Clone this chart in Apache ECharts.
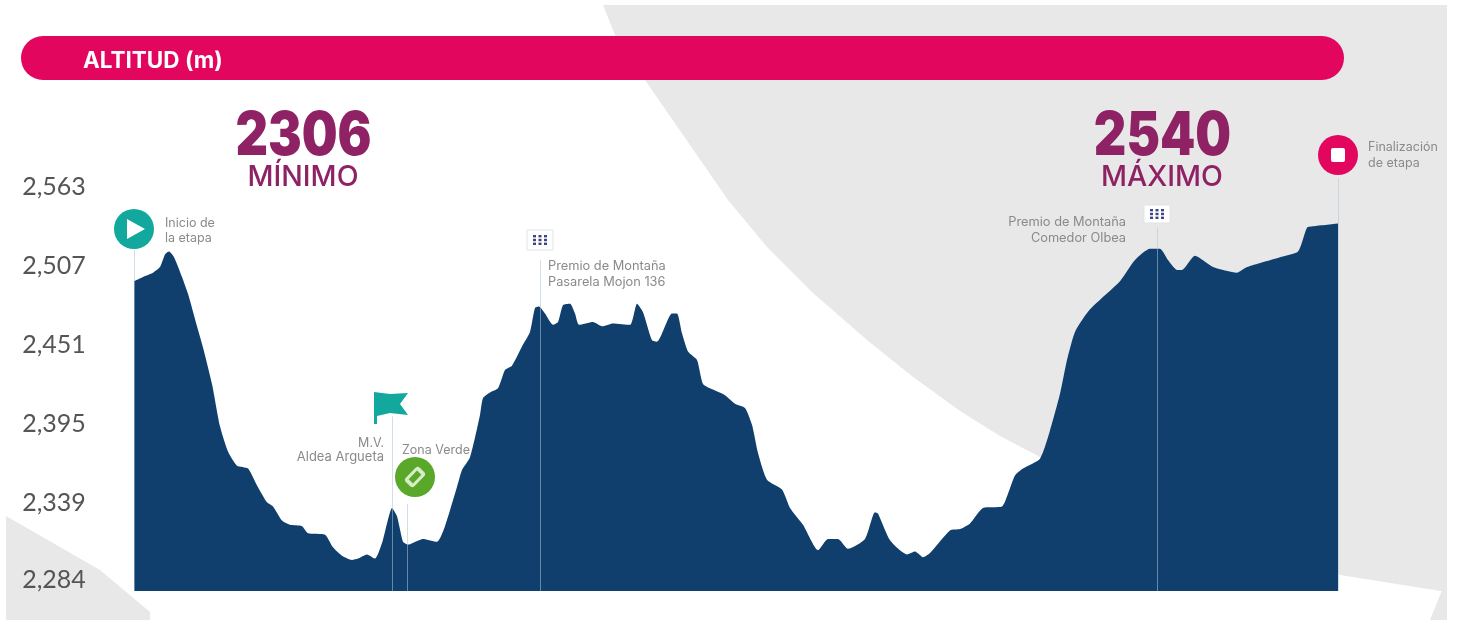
<!DOCTYPE html>
<html lang="es">

<head>
  <meta charset="UTF-8">
  <title>Altitud</title>
  <style>
    html, body {
      margin: 0;
      width: 100%;
      height: 100%;
      background: #fff;
    }

    #chart {
      width: 1457px;
      height: 622px;
    }
  </style>
</head>

<body>
  <div id="chart"></div>
  <script src="https://cdn.jsdelivr.net/npm/echarts@6/dist/echarts.min.js"></script>
  <script>
    var distance = [0, 9, 19, 26, 31, 35, 40, 48, 54, 63, 69, 78, 86, 94, 103, 114, 123, 133, 139, 148, 156, 168, 174, 191, 199, 208, 218, 224, 233, 241, 248, 253, 258, 263, 269, 274, 289, 303, 311, 323, 328, 336, 346, 349, 356, 364, 371, 378, 389, 396, 401, 405, 411, 419, 424, 429, 436, 441, 445, 459, 468, 479, 496, 503, 509, 518, 523, 538, 543, 548, 554, 563, 569, 579, 591, 601, 611, 618, 624, 633, 648, 656, 669, 684, 694, 704, 714, 731, 741, 744, 756, 773, 781, 789, 796, 816, 826, 836, 849, 868, 874, 881, 889, 906, 916, 926, 933, 941, 956, 986, 1001, 1016, 1026, 1034, 1043, 1048, 1061, 1079, 1103, 1113, 1146, 1164, 1173, 1179, 1204];
    var altitude = [2504, 2507, 2510, 2514, 2523, 2525, 2521, 2507, 2495, 2472, 2457, 2431, 2401, 2383, 2373, 2371, 2359, 2347, 2344, 2334, 2331, 2330, 2325, 2324, 2315, 2309, 2306, 2307, 2310, 2307, 2318, 2332, 2343, 2337, 2319, 2317, 2321, 2319, 2330, 2358, 2370, 2379, 2409, 2421, 2425, 2428, 2441, 2444, 2459, 2468, 2485, 2486, 2481, 2473, 2475, 2487, 2488, 2481, 2473, 2475, 2472, 2474, 2473, 2488, 2482, 2462, 2461, 2481, 2481, 2467, 2454, 2448, 2431, 2427, 2423, 2417, 2414, 2402, 2382, 2363, 2356, 2343, 2331, 2313, 2321, 2321, 2314, 2321, 2340, 2339, 2320, 2310, 2312, 2308, 2311, 2327, 2328, 2332, 2343, 2344, 2353, 2366, 2371, 2378, 2398, 2424, 2448, 2468, 2484, 2504, 2519, 2527, 2527, 2519, 2512, 2512, 2522, 2514, 2510, 2514, 2521, 2525, 2542, 2543, 2545];
    var tickValues = [2284, 2339, 2395, 2451, 2507, 2563];
    var minimo = '2306';
    var maximo = '2540';

    // puntos de la etapa: distancia y altitud hasta donde sube la linea guia
    var pointDistance = [0, 258, 273, 406, 1023, 1204];
    var pointTop = [2526, 2408, 2346, 2519, 2542, 2577];

    var gris = '#e8e8e8';
    var rosa = '#e2065f';
    var morado = '#8e2265';
    var verdeAzul = '#12a89d';
    var fuente = 'Inter, Lato, sans-serif';

    function texto(x, y, str, align, size, color, weight) {
      return {
        type: 'text',
        z: 10,
        style: {
          x: x,
          y: y,
          text: str,
          align: align || 'left',
          verticalAlign: 'middle',
          fontFamily: fuente,
          fontSize: size || 12.5,
          fontWeight: weight || 'normal',
          fill: color || '#8a8a8a'
        }
      };
    }

    // numero grande: Inter es mas ancha que la letra original, se estrecha un poco
    function cifra(x, y, str) {
      var t = texto(0, 0, str, 'center', 60, morado, 900);
      t.x = x;
      t.y = y;
      t.scaleX = 0.84;
      return t;
    }

    // banderita de premio de montaña con sus puntos
    function banderita(x, y, w, h) {
      var els = [{
        type: 'rect',
        z: 9,
        shape: { x: x, y: y, width: w, height: h },
        style: { fill: '#fff', stroke: '#dfe3ea', lineWidth: 1 }
      }];
      for (var i = 0; i < 3; i++) {
        for (var j = 0; j < 3; j++) {
          els.push({
            type: 'rect',
            z: 10,
            shape: { x: x + w / 2 - 7 + i * 5.5, y: y + h / 2 - 5 + j * 3.8, width: 3, height: 2.4 },
            style: { fill: '#3b4488' }
          });
        }
      }
      return els;
    }

    var graficos = [
      // fondo gris
      {
        type: 'polygon',
        z: -10,
        shape: {
          points: [[603, 5], [615, 35], [645, 80], [690, 145], [728, 200], [767, 247], [813, 293], [867, 340], [913, 377], [960, 411], [1000, 436], [1040, 457], [1100, 500], [1340, 575], [1447, 592], [1447, 5]]
        },
        style: { fill: gris }
      },
      {
        type: 'polygon',
        z: -10,
        shape: { points: [[6, 516], [100, 570], [150, 612], [150, 620], [6, 620]] },
        style: { fill: gris }
      },
      {
        type: 'polygon',
        z: -10,
        shape: { points: [[1447, 578], [1430, 620], [1447, 620]] },
        style: { fill: gris }
      },
      // barra de titulo
      {
        type: 'rect',
        z: 5,
        shape: { x: 21, y: 36, width: 1323, height: 44, r: 22 },
        style: { fill: rosa }
      },
      texto(83, 61, 'ALTITUD (m)', 'left', 22.5, '#fff', 'bold'),
      // minimo y maximo
      cifra(303.5, 137, minimo),
      texto(303, 177, 'MÍNIMO', 'center', 28.5, morado, 500),
      cifra(1162.5, 137, maximo),
      texto(1162, 177, 'MÁXIMO', 'center', 28.5, morado, 500),
      // inicio
      { type: 'circle', z: 9, shape: { cx: 134, cy: 229, r: 20 }, style: { fill: verdeAzul } },
      { type: 'polygon', z: 10, shape: { points: [[127, 219], [145, 229], [127, 239]] }, style: { fill: '#fff' } },
      texto(165, 223, 'Inicio de'),
      texto(165, 238, 'la etapa'),
      // final
      { type: 'circle', z: 9, shape: { cx: 1338, cy: 155, r: 20 }, style: { fill: rosa } },
      { type: 'rect', z: 10, shape: { x: 1331, y: 148, width: 14, height: 14, r: 2 }, style: { fill: '#fff' } },
      texto(1368, 147, 'Finalización'),
      texto(1368, 163, 'de etapa'),
      // M.V.
      { type: 'polygon', z: 9, shape: { points: [[374, 392], [390, 394], [408, 393], [400, 404], [408, 415], [390, 413], [377, 416], [377, 424], [374, 424]] }, style: { fill: verdeAzul } },
      texto(384, 443, 'M.V.', 'right'),
      texto(384, 457, 'Aldea Argueta', 'right', 13),
      // zona verde
      { type: 'circle', z: 9, shape: { cx: 415, cy: 477, r: 20 }, style: { fill: '#5aa829' } },
      { type: 'rect', z: 10, rotation: 0.8, originX: 415, originY: 477, shape: { x: 405, y: 471, width: 20, height: 12, r: 3 }, style: { fill: '#d9ecc8' } },
      { type: 'rect', z: 10, rotation: 0.8, originX: 415, originY: 477, shape: { x: 409, y: 474, width: 12, height: 6 }, style: { fill: '#5aa829' } },
      texto(402, 450, 'Zona Verde', 'left', 12.5),
      // premios de montaña
      texto(548, 266, 'Premio de Montaña', 'left', 12.8),
      texto(548, 282, 'Pasarela Mojon 136', 'left', 12.8),
      texto(1126, 222, 'Premio de Montaña', 'right', 12.8),
      texto(1126, 238, 'Comedor Olbea', 'right', 12.8)
    ].concat(banderita(527, 230, 26, 20), banderita(1144, 205, 26, 18));

    var guias = [];
    for (var i = 0; i < pointDistance.length; i++) {
      guias.push([
        { coord: [pointDistance[i], tickValues[0]] },
        { coord: [pointDistance[i], pointTop[i]] }
      ]);
    }

    var perfil = [];
    for (var k = 0; k < distance.length; k++) {
      perfil.push([distance[k], altitude[k]]);
    }

    var myChart = echarts.init(document.getElementById('chart'));
    myChart.setOption({
      animation: false,
      grid: { left: 134, width: 1204, top: 146, height: 445 },
      xAxis: { type: 'value', min: 0, max: 1204, show: false },
      yAxis: {
        type: 'value',
        min: 2284,
        max: 2600,
        splitLine: { show: false },
        axisLine: { show: false },
        axisTick: { show: false },
        axisLabel: {
          customValues: tickValues,
          formatter: function (v) {
            return String(v).charAt(0) + ',' + String(v).slice(1);
          },
          align: 'center',
          verticalAlign: 'bottom',
          lineHeight: 22,
          margin: 80,
          fontFamily: 'Lato, sans-serif',
          fontSize: 25,
          color: '#555'
        }
      },
      graphic: { elements: graficos },
      series: [{
        type: 'line',
        data: perfil,
        clip: false,
        smooth: 0.2,
        showSymbol: false,
        lineStyle: { width: 0 },
        areaStyle: { color: '#103f6e', opacity: 1 },
        markLine: {
          silent: true,
          symbol: 'none',
          label: { show: false },
          lineStyle: { color: '#a9c4d8', width: 1, type: 'solid', opacity: 0.55 },
          data: guias
        }
      }]
    });
  </script>
</body>

</html>
